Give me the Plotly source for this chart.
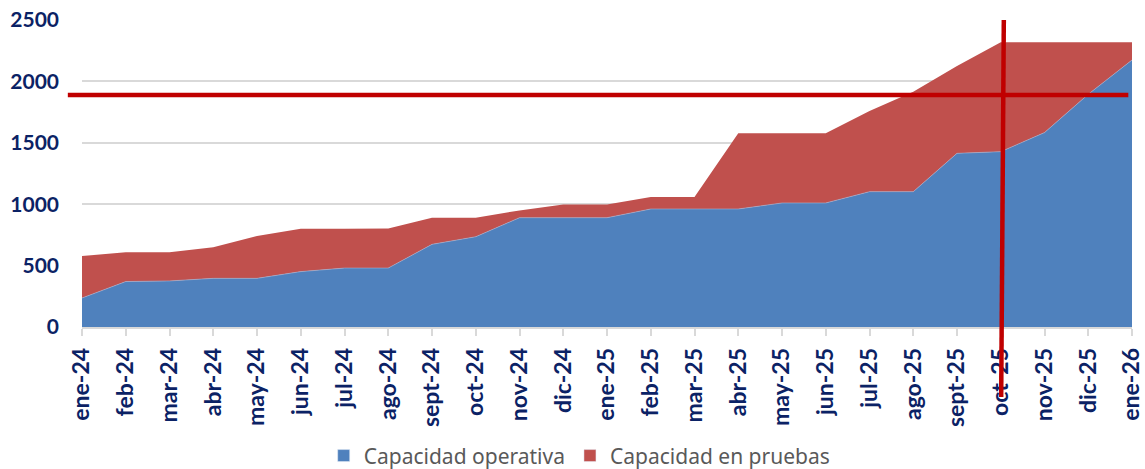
import plotly.graph_objects as go

months = ["ene-24", "feb-24", "mar-24", "abr-24", "may-24", "jun-24", "jul-24", "ago-24",
          "sept-24", "oct-24", "nov-24", "dic-24", "ene-25", "feb-25", "mar-25", "abr-25",
          "may-25", "jun-25", "jul-25", "ago-25", "sept-25", "oct-25", "nov-25", "dic-25", "ene-26"]

capacidad_operativa = [236, 370, 375, 396, 396, 451, 480, 480,
                       673, 735, 890, 890, 890, 961, 961, 961,
                       1010, 1010, 1102, 1102, 1414, 1428, 1583, 1895, 2174]

capacidad_total = [578, 608, 608, 649, 741, 801, 801, 803,
                   890, 890, 949, 998, 998, 1059, 1059, 1577,
                   1577, 1577, 1759, 1916, 2125, 2318, 2318, 2318, 2318]

capacidad_pruebas = [t - o for t, o in zip(capacidad_total, capacidad_operativa)]

umbral = 1890          # horizontal reference level
mes_marcado = "oct-25"  # vertical reference month
y_max = 2500

series_names = ["Capacidad operativa", "Capacidad en pruebas"]
series_colors = ["#4F81BD", "#C0504D"]

x_idx = list(range(len(months)))
navy = "#0B2265"

fig = go.Figure()
fig.add_trace(go.Scatter(
    x=x_idx, y=capacidad_operativa, name=series_names[0], showlegend=False,
    stackgroup="one", mode="lines", line=dict(width=0.6, color="#9DB6D8"),
    fillcolor=series_colors[0]))
fig.add_trace(go.Scatter(
    x=x_idx, y=capacidad_pruebas, name=series_names[1], showlegend=False,
    stackgroup="one", mode="lines", line=dict(width=0, color=series_colors[1]),
    fillcolor=series_colors[1]))
# legend swatches (square markers)
for nm, col in zip(series_names, series_colors):
    fig.add_trace(go.Bar(x=[None], y=[None], name=nm, marker_color=col, showlegend=True))

n = len(months) - 1
mi = months.index(mes_marcado)
fig.add_shape(type="line", xref="paper", yref="paper",
              x0=-0.0135, x1=0.9965, y0=umbral / y_max, y1=umbral / y_max,
              line=dict(color="#C00000", width=4.5), layer="above")
fig.add_shape(type="line", xref="paper", yref="paper",
              x0=(mi + 0.07) / n, x1=(mi + 0.01) / n, y0=1.0, y1=-0.228,
              line=dict(color="#C00000", width=4.5), layer="above")

fig.update_layout(
    width=1145, height=469,
    margin=dict(l=82, r=13, t=20, b=142, autoexpand=False),
    paper_bgcolor="white", plot_bgcolor="white",
    font=dict(family="Lato, Carlito, Calibri, sans-serif"),
    showlegend=True,
    legend=dict(orientation="h", x=0.474, xanchor="center", y=-0.42, yanchor="middle",
                font=dict(size=21, color="#595959", family="Noto Sans, sans-serif"),
                traceorder="normal", itemwidth=30),
    xaxis=dict(
        tickmode="array", tickvals=x_idx, ticktext=months, tickangle=-90,
        range=[0, n], showgrid=False, zeroline=False, automargin=False,
        showline=True, linecolor="#D9D9D9", linewidth=1.5,
        ticks="outside", ticklen=7, tickcolor="#D9D9D9", tickwidth=1.5,
        tickfont=dict(size=23, color=navy, family="Lato, sans-serif", weight="bold"),
        ticklabelstandoff=3, ticklabeloverflow="allow"),
    yaxis=dict(
        range=[0, y_max], tickvals=[0, 500, 1000, 1500, 2000, 2500],
        showgrid=True, gridcolor="#D9D9D9", gridwidth=1.5, zeroline=False,
        showline=False, automargin=False,
        tickfont=dict(size=21, color=navy, family="Lato, sans-serif", weight="bold"),
        ticklabelstandoff=22),
)

fig.write_html("out.html", config={"displayModeBar": False},
               post_script="document.body.style.margin='0';document.body.style.overflow='hidden';")
